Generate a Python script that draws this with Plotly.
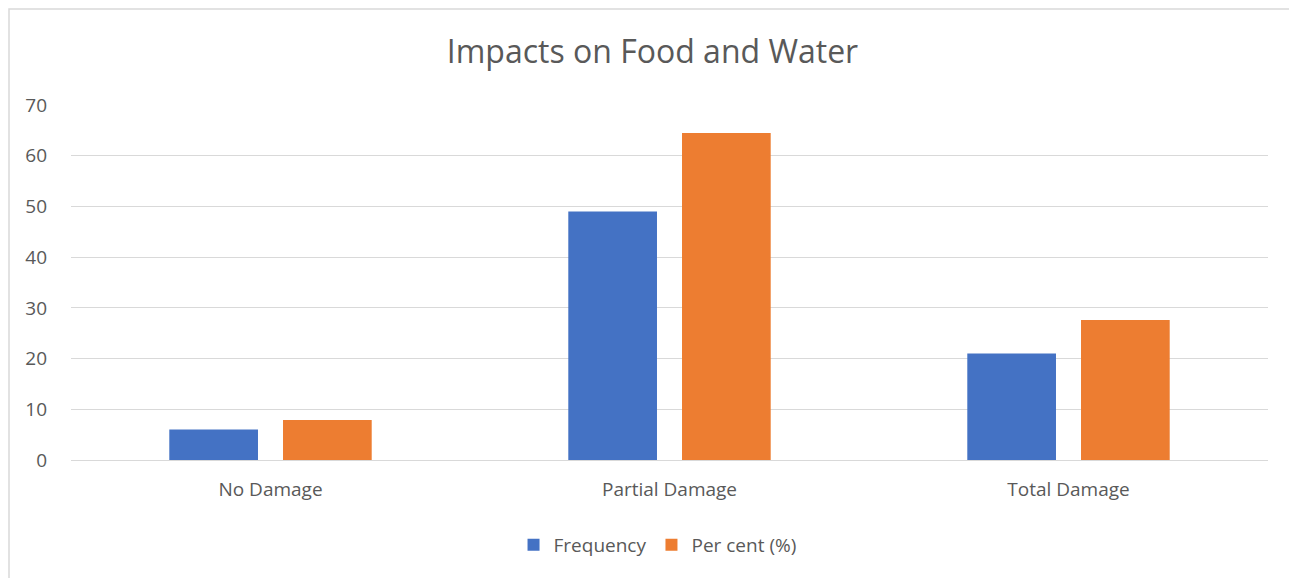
import plotly.graph_objects as go

categories = ["No Damage", "Partial Damage", "Total Damage"]
frequency = [6, 49, 21]
per_cent = [7.9, 64.5, 27.6]
y_ticks = [0, 10, 20, 30, 40, 50, 60, 70]

FONT = "Open Sans"
GREY = "#595959"

# page body has an 8px margin, so the figure is offset by (8, 8)
OFF = 8
W, H = 1297 - OFF, 578 - OFF

fig = go.Figure()
fig.add_trace(go.Bar(name="Frequency", x=categories, y=frequency,
                     marker=dict(color="#4472C4", line=dict(width=0))))
fig.add_trace(go.Bar(name="Per cent (%)", x=categories, y=per_cent,
                     marker=dict(color="#ED7D31", line=dict(width=0))))

fig.update_layout(
    width=W, height=H,
    margin=dict(l=71 - OFF, r=1297 - 1268, t=105 - OFF, b=578 - 460),
    paper_bgcolor="white", plot_bgcolor="white",
    barmode="group", bargap=0.43, bargroupgap=0.22,
    font=dict(family=FONT, color=GREY, size=19),
    title=dict(text="Impacts on Food and Water", x=0.5, xanchor="center",
               y=1 - (52 - OFF) / H, yanchor="middle",
               font=dict(family=FONT, size=32, color=GREY)),
    showlegend=True,
    legend=dict(orientation="h", x=0.49, xanchor="center", y=-0.239, yanchor="middle",
                font=dict(size=19, color=GREY), itemwidth=30, traceorder="normal"),
    xaxis=dict(showgrid=False, showline=False, ticks="", ticklabelstandoff=16,
               tickfont=dict(size=19, color=GREY)),
    yaxis=dict(range=[0, 70], tickvals=y_ticks, showgrid=True, gridcolor="#d9d9d9",
               gridwidth=1, zeroline=True, zerolinecolor="#d9d9d9", zerolinewidth=1,
               showline=False, ticks="", ticklabelstandoff=23,
               tickfont=dict(size=19, color=GREY)),
)

# chart border (top, left and right edges of the chart box), in page pixels
px0, pw, py0, ph = 71, 1197, 460, 355
def xp(px):
    return (px - px0) / pw
def yp(py):
    return (py0 - py) / ph
fig.add_shape(type="rect", xref="paper", yref="paper",
              x0=xp(9), x1=xp(1295.5), y0=yp(620), y1=yp(9),
              line=dict(color="#d9d9d9", width=1.5), fillcolor="rgba(0,0,0,0)", layer="below")

fig.write_html("out.html")
